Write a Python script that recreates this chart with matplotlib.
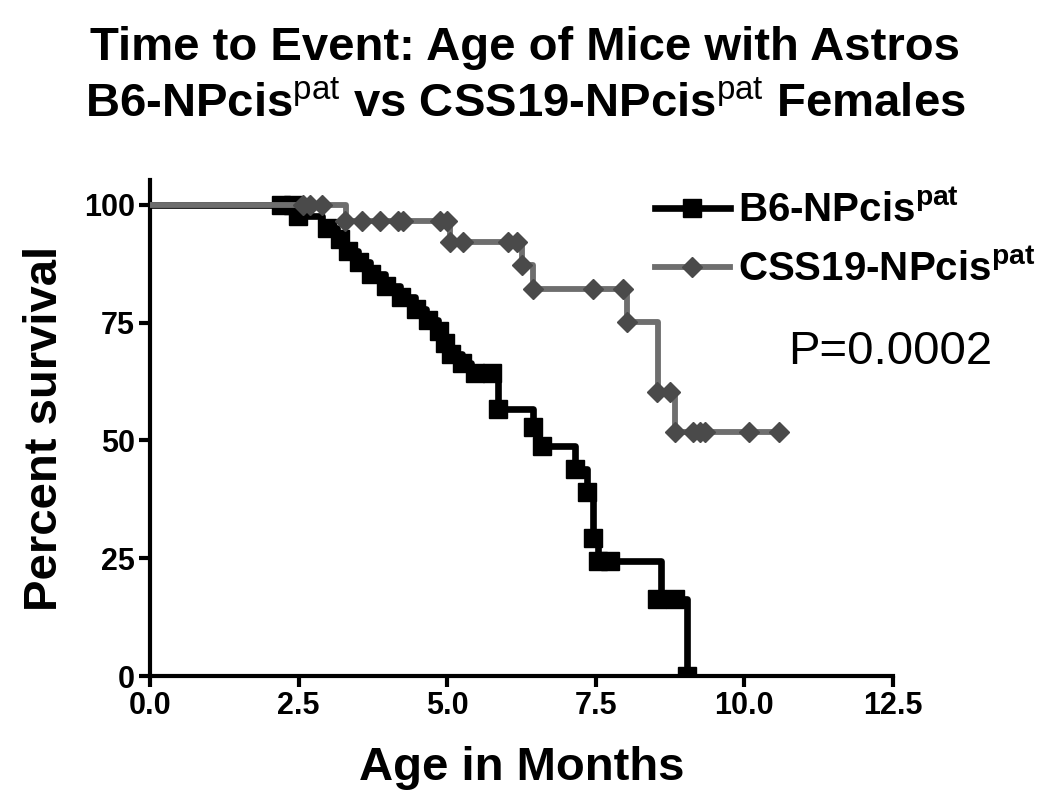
import matplotlib
matplotlib.use("Agg")
import matplotlib.pyplot as plt

plt.rcParams['font.family'] = ['Liberation Sans', 'DejaVu Sans']
plt.rcParams['mathtext.fontset'] = 'custom'
plt.rcParams['mathtext.rm'] = 'Liberation Sans'
plt.rcParams['mathtext.bf'] = 'Liberation Sans:bold'

# B6-NPcis(pat): step curve (time in months, percent survival)
b6_time = [0, 2.45, 2.9, 3.15, 3.3, 3.5, 3.7, 3.95, 4.2, 4.45, 4.65, 4.85, 4.95, 5.05,
           5.25, 5.4, 5.86, 6.45, 6.55, 7.15, 7.36, 7.46, 7.54, 8.59, 9.04]
b6_surv = [100, 97.6, 95.1, 92.7, 90.2, 87.8, 85.4, 82.9, 80.5, 78.0, 75.6, 73.2, 70.7, 68.3,
           66.5, 64.3, 56.6, 52.9, 48.8, 44.0, 39.1, 29.3, 24.4, 16.3, 0]
# marker positions for B6
b6_mark_t = [2.2, 2.41, 2.49, 2.98, 3.2, 3.33, 3.52, 3.72, 3.97, 4.22, 4.47, 4.67, 4.87, 4.97,
             5.07, 5.25, 5.47, 5.76, 5.86, 6.45, 6.6, 7.15, 7.36, 7.46, 7.54, 7.74, 8.53, 8.84, 9.04]
b6_mark_s = [100, 100, 97.6, 95.1, 92.7, 90.2, 87.8, 85.4, 82.9, 80.5, 78.0, 75.6, 73.2, 70.7,
             68.3, 66.5, 64.3, 64.3, 56.6, 52.9, 48.8, 44.0, 39.1, 29.3, 24.4, 24.4, 16.3, 16.3, 0]

# CSS19-NPcis(pat): step curve
css_time = [0, 3.3, 5.05, 6.26, 6.45, 8.03, 8.55, 8.84, 10.59]
css_surv = [100, 96.7, 92.2, 87.3, 82.2, 75.2, 60.3, 51.8, 51.8]
css_mark_t = [2.58, 2.69, 2.9, 3.28, 3.57, 3.87, 4.18, 4.26, 4.88, 5.0, 5.05, 5.27, 6.03, 6.18,
              6.26, 6.45, 7.46, 7.95, 8.03, 8.53, 8.75, 8.84, 9.14, 9.26, 9.34, 10.07, 10.59]
css_mark_s = [100, 100, 100, 96.7, 96.7, 96.7, 96.7, 96.7, 96.7, 96.7, 92.2, 92.2, 92.2, 92.2,
              87.3, 82.2, 82.2, 82.2, 75.2, 60.3, 60.3, 51.8, 51.8, 51.8, 51.8, 51.8, 51.8]

x_ticks = [0, 2.5, 5.0, 7.5, 10.0, 12.5]
y_ticks = [0, 25, 50, 75, 100]

fig = plt.figure(figsize=(10.5, 8.09), dpi=100)
ax = fig.add_axes([150 / 1050, 1 - 676 / 809, (893 - 150) / 1050, (676 - 180) / 809])

black = '#000000'
gray_line = '#6e6e6e'
gray_mark = '#4a4a4a'

ax.plot(b6_time, b6_surv, drawstyle='steps-post', color=black, lw=4.8, zorder=2)
ax.plot(b6_mark_t, b6_mark_s, 's', color=black, ms=13.5, zorder=2)
ax.plot(css_time, css_surv, drawstyle='steps-post', color=gray_line, lw=4.2, zorder=3)
ax.plot(css_mark_t, css_mark_s, 'D', color=gray_mark, ms=10, zorder=3)

# legend handles
h1, = ax.plot([], [], color=black, lw=4.8, marker='s', ms=13.5)
h2, = ax.plot([], [], color=gray_line, lw=4.2, marker='D', ms=10, mfc=gray_mark, mec=gray_mark)
leg = ax.legend([h1, h2], [r'B6-NPcis$^{\mathbf{pat}}$', r'CSS19-NPcis$^{\mathbf{pat}}$'],
                loc='upper left', bbox_to_anchor=(655 / 1050, 1 - 192 / 809),
                bbox_transform=fig.transFigure, frameon=False, handlelength=1.85,
                handletextpad=0.2, labelspacing=0.5, borderpad=0, borderaxespad=0,
                prop={'weight': 'bold', 'size': 29})

ax.text(890 / 1050, 1 - 352 / 809, 'P=0.0002', transform=fig.transFigure,
        ha='center', va='center', fontsize=34)

ax.set_xlim(0, 12.5)
ax.set_ylim(0, 105.3)
ax.set_xticks(x_ticks)
ax.set_xticklabels(['%.1f' % t for t in x_ticks])
ax.set_yticks(y_ticks)
for s in ['top', 'right']:
    ax.spines[s].set_visible(False)
for s in ['left', 'bottom']:
    ax.spines[s].set_linewidth(3)
ax.tick_params(axis='both', length=8, width=3, direction='out', labelsize=22, pad=3)
for lab in ax.get_xticklabels() + ax.get_yticklabels():
    lab.set_fontweight('bold')

ax.set_xlabel('Age in Months', fontsize=34, fontweight='bold', labelpad=18)
ax.set_ylabel('Percent survival', fontsize=34, fontweight='bold', labelpad=12)

fig.text(0.5, 1 - 48 / 809, 'Time to Event: Age of Mice with Astros',
         ha='center', va='center', fontsize=34, fontweight='bold')
fig.text(0.5, 1 - 105 / 809, r'B6-NPcis$^{\mathrm{pat}}$ vs CSS19-NPcis$^{\mathrm{pat}}$ Females',
         ha='center', va='center', fontsize=34, fontweight='bold')

fig.savefig('out.png', dpi=100)
